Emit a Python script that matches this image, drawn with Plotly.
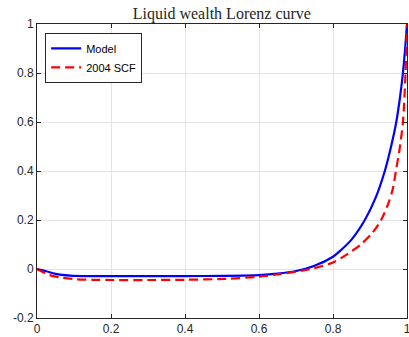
import plotly.graph_objects as go

# Population share (x) and cumulative liquid wealth share (y)
x_model = [0, 0.025, 0.05, 0.09, 0.15, 0.2, 0.3, 0.4, 0.5, 0.6, 0.65, 0.7, 0.75, 0.8, 0.82, 0.85, 0.886, 0.915, 0.94, 0.957, 0.971, 0.981, 0.989, 0.995, 1.0]
y_model = [0, -0.009, -0.02, -0.027, -0.029, -0.029, -0.029, -0.029, -0.028, -0.025, -0.019, -0.008, 0.013, 0.05, 0.075, 0.12, 0.2, 0.29, 0.4, 0.5, 0.6, 0.7, 0.8, 0.9, 1.0]

x_scf = [0, 0.034, 0.07, 0.106, 0.15, 0.2, 0.3, 0.4, 0.51, 0.595, 0.65, 0.695, 0.74, 0.8, 0.84, 0.875, 0.905, 0.93, 0.95, 0.962, 0.97, 0.98, 0.989, 0.996, 1.0]
y_scf = [0, -0.025, -0.036, -0.042, -0.044, -0.045, -0.045, -0.044, -0.04, -0.032, -0.022, -0.012, 0.0, 0.027, 0.062, 0.1, 0.145, 0.2, 0.27, 0.33, 0.4, 0.49, 0.6, 0.8, 1.0]

x_ticks = [0, 0.2, 0.4, 0.6, 0.8, 1]
x_labels = ["0", "0.2", "0.4", "0.6", "0.8", "1"]
y_ticks = [-0.2, 0, 0.2, 0.4, 0.6, 0.8, 1]
y_labels = ["-0.2", "0", "0.2", "0.4", "0.6", "0.8", "1"]

fig = go.Figure()
fig.add_trace(go.Scatter(x=x_model, y=y_model, mode="lines", name="Model",
                         line=dict(color="#0000ff", width=2.2, shape="spline", smoothing=0.8)))
fig.add_trace(go.Scatter(x=x_scf, y=y_scf, mode="lines", name="2004 SCF",
                         line=dict(color="#ff0000", width=2.2, dash="9px,5px", shape="spline", smoothing=0.8)))

axis_common = dict(showline=True, linecolor="#262626", linewidth=1, mirror="ticks",
                   ticks="inside", ticklen=4, tickcolor="#262626",
                   showgrid=True, gridcolor="#e3e3e3", gridwidth=1, zeroline=False,
                   ticklabeloverflow="allow", automargin=False,
                   tickfont=dict(family="Liberation Sans, Arial, sans-serif", size=12, color="#262626"))

fig.update_layout(
    width=409, height=337,
    margin=dict(l=37, r=2, t=24, b=19, autoexpand=False),
    paper_bgcolor="white", plot_bgcolor="white",
    title=dict(text="Liquid wealth Lorenz curve", x=0.5425, xanchor="center", y=0.961, yanchor="middle",
               font=dict(family="Liberation Serif, Times New Roman, serif", size=16, color="#262626")),
    xaxis=dict(range=[0, 1], tickvals=x_ticks, ticktext=x_labels, **axis_common),
    yaxis=dict(range=[-0.2, 1], tickvals=y_ticks, ticktext=y_labels, **axis_common),
    legend=dict(x=0.022, y=0.97, xanchor="left", yanchor="top", bgcolor="white",
                bordercolor="#262626", borderwidth=1, tracegroupgap=0, itemwidth=30,
                font=dict(family="Liberation Sans, Arial, sans-serif", size=11, color="black")),
    showlegend=True,
)

fig.write_html("out.html", config={"displayModeBar": False},
               post_script="document.body.style.margin='0';document.body.style.overflow='hidden';")
